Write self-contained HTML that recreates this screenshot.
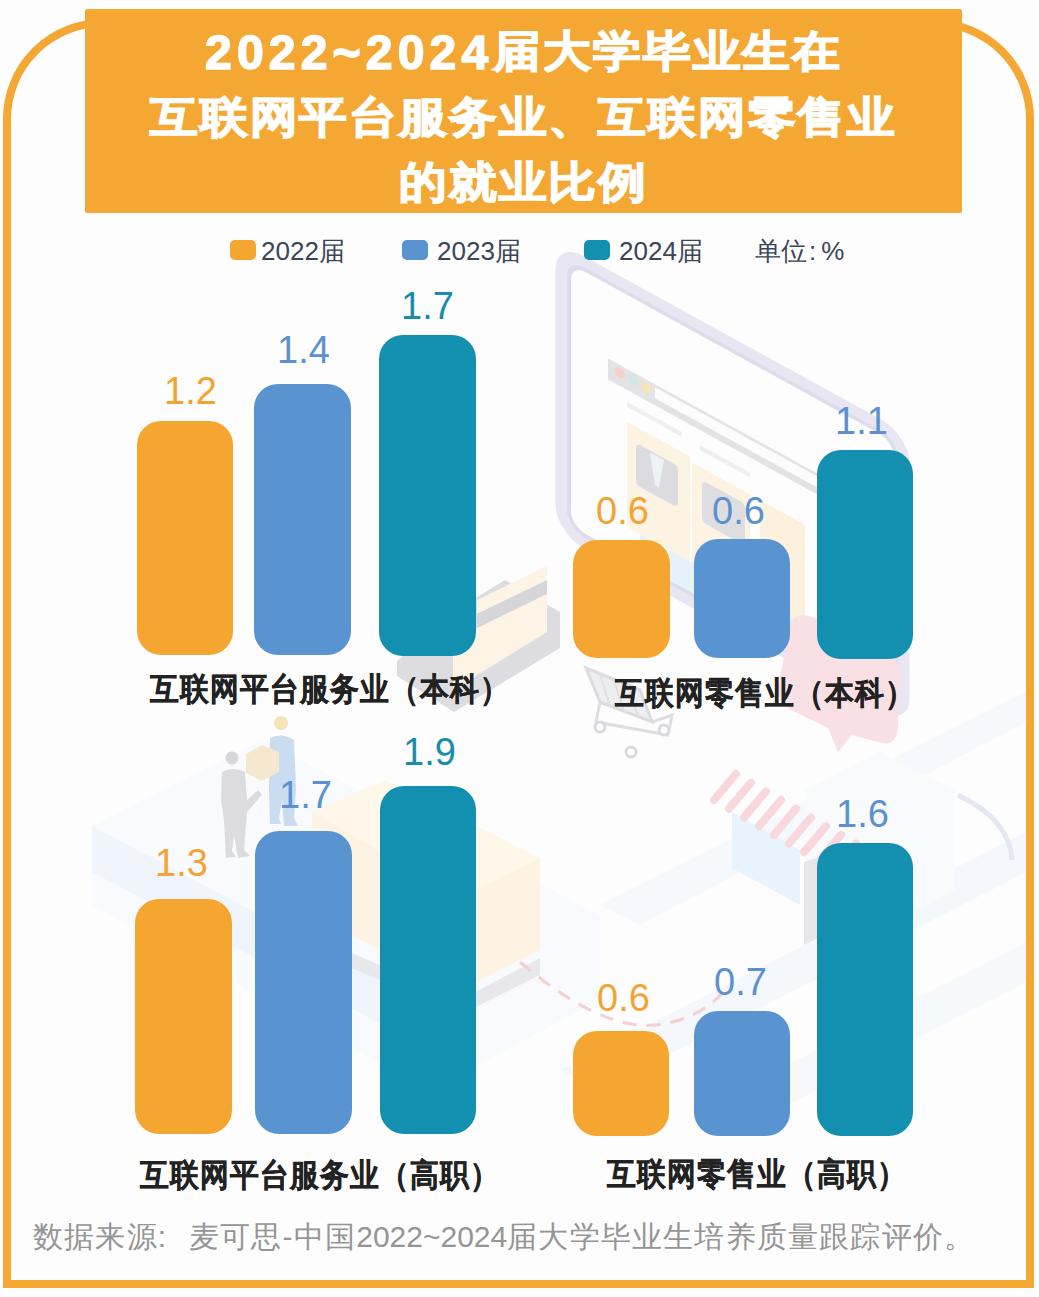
<!DOCTYPE html>
<html><head><meta charset="utf-8">
<style>
html,body{margin:0;padding:0;}
body{width:1039px;height:1297px;position:relative;overflow:hidden;background:#fdfdfd;font-family:"Liberation Sans",sans-serif;}
.abs{position:absolute;}
#bg{position:absolute;left:0;top:0;}
.title{position:absolute;left:85px;top:9px;width:877px;height:204px;background:#f4a733;border-radius:2px;}
.tl{position:absolute;left:0;width:877px;text-align:center;color:#fff;font-weight:900;font-size:48px;letter-spacing:1.8px;white-space:nowrap;line-height:1;-webkit-text-stroke:1.6px #fff;transform:scaleY(0.9);transform-origin:0 0;}
.sw{position:absolute;width:26px;height:20px;border-radius:5px;top:239.5px;}
.lg{position:absolute;top:237.5px;font-size:26px;color:#3a4557;line-height:1;white-space:nowrap;}
.bar{position:absolute;border-radius:24px;}
.o{background:#f4a631;}
.b{background:#5a94d0;}
.t{background:#1390b0;}
.val{position:absolute;font-size:38px;line-height:1;white-space:nowrap;}
.vo{color:#f3a331;}
.vb{color:#5b91cf;}
.vt{color:#1a8cab;}
.cat{position:absolute;font-size:29px;letter-spacing:1px;font-weight:bold;color:#222;-webkit-text-stroke:0.3px #222;transform:scaleY(1.11);transform-origin:0 0;line-height:1;white-space:nowrap;}
.foot{position:absolute;left:33px;top:1222px;font-size:30px;letter-spacing:1.2px;color:#959595;font-weight:300;line-height:1;white-space:nowrap;}
</style></head>
<body>
<svg id="bg" width="1039" height="1297" viewBox="0 0 1039 1297">
  <!-- background illustration (faint) -->
  <g id="illus">
    <!-- left slab -->
    <polygon points="92,826 262,740 600,915 600,1000 430,1090 92,905" fill="#f8fafd"/>
    <polygon points="92,826 92,872 430,1050 430,1005" fill="#f0f5fb"/>
    <!-- lower-right conveyor bands -->
    <polygon points="560,1070 1030,830 1030,870 600,1090" fill="#f4f7fc"/>
    <polygon points="600,905 1030,690 1030,720 640,925" fill="#f5f8fc"/>
    <polygon points="700,1110 1030,940 1030,980 740,1130" fill="#f6f8fc"/>
    <!-- monitor -->
    <g transform="matrix(1,0.55,0,1,0,0)">
      <rect x="555.5" y="-65" width="354" height="292" rx="28" fill="#e7e6f2"/>
      <rect x="567" y="-54" width="331" height="270" rx="18" fill="#dddcea"/>
      <rect x="571" y="-50" width="323" height="262" rx="15" fill="#fdfdfe"/>
      <rect x="608" y="24" width="272" height="21" fill="#e3e3e5"/>
      <circle cx="620" cy="32" r="5" fill="#f5d0c6"/>
      <circle cx="633" cy="32" r="5" fill="#d0e7e9"/>
      <circle cx="646" cy="32" r="5" fill="#f6e5b6"/>
      <rect x="655" y="27" width="225" height="11" fill="#fcfcfc"/>
      <rect x="627" y="57" width="55" height="5" fill="#efefef"/>
      <rect x="700" y="60" width="50" height="5" fill="#efefef"/>
      <rect x="627" y="77" width="63" height="105" fill="#fdf3e3"/>
      <rect x="636" y="93" width="42" height="42" rx="5" fill="#dcdce0"/>
      <polygon points="650,95 664,95 659,125 655,125" fill="#eef2f6"/>
      <rect x="692" y="82" width="58" height="100" fill="#fdf3e3"/>
      <rect x="702" y="94" width="43" height="42" rx="5" fill="#dedee2"/>
      <rect x="760" y="82" width="45" height="100" fill="#fdf1de"/>
      <rect x="640" y="182" width="170" height="30" fill="#e6f2f9"/>
    </g>
    <!-- store bg -->
    <polygon points="805,790 880,752 955,790 955,890 880,930 805,890" fill="#f9fafc"/>
    <!-- speech bubble -->
    <path d="M790 625 Q795 610 815 618 L885 650 Q900 658 900 680 L898 728 Q896 748 878 742 L852 735 L838 752 L828 728 L795 712 Q778 704 778 688 Z" fill="#f9e0e4"/>
    <!-- cart -->
    <polygon points="586,668 640,690 652,722 600,702" fill="#eeeef1" stroke="#dcdce0" stroke-width="3"/>
    <g stroke="#e0e0e4" stroke-width="2"><line x1="600" y1="674" x2="610" y2="707"/><line x1="614" y1="680" x2="624" y2="712"/><line x1="628" y1="686" x2="638" y2="717"/></g>
    <polyline points="600,702 596,722 668,735 672,715 652,722" fill="none" stroke="#dedee2" stroke-width="3"/>
    <g fill="#fff" stroke="#dadade" stroke-width="3">
      <circle cx="600" cy="727" r="5"/><circle cx="664" cy="730" r="5"/><circle cx="631" cy="752" r="5"/>
    </g>
    <!-- card reader -->
    <polygon points="397,661 477,597 505,580 560,612 560,648 454,712 397,676" fill="#dddde1"/>
    <polygon points="477,600 547,566 547,580 477,614" fill="#fdf4e6"/>
    <polygon points="477,614 547,580 547,594 477,628" fill="#d5d5da"/>
    <polygon points="453,640 547,594 547,632 453,690" fill="#fdf4e6"/>
    <!-- big box -->
    <polygon points="312,812 385,780 540,858 540,950 460,990 312,915" fill="#fdf3e2"/>
    <polygon points="312,812 385,780 540,858 460,897" fill="#fef7ea"/>
    <polygon points="345,950 460,1000 540,958 540,975 460,1015 345,965" fill="#e8e8ec"/>
    <!-- people -->
    <circle cx="232" cy="758" r="6.5" fill="#d6d6d8"/>
    <path d="M222 772 Q233 766 245 772 L247 800 L258 790 L262 795 L247 812 L244 850 L250 856 L238 858 L234 835 L232 851 L236 857 L226 858 L224 820 L221 800 Z" fill="#dcdcde"/>
    <circle cx="281" cy="723" r="7" fill="#f6e4b6"/>
    <path d="M270 738 Q282 732 294 740 L296 790 L294 818 L298 826 L284 826 L282 800 L279 818 L281 824 L270 824 L269 790 Z" fill="#cadcef"/>
    <polygon points="246,754 262,745 279,752 279,772 262,781 246,773" fill="#f6e7cf"/>
    <!-- store -->
    
    <polygon points="732,812 800,850 800,905 732,868" fill="#e9f3fb"/>
    <g stroke="#f9d8dd" stroke-width="8" stroke-linecap="round"><line x1="714" y1="800.0" x2="736" y2="774.0"/><line x1="729" y1="808.7" x2="751" y2="782.7"/><line x1="744" y1="817.4" x2="766" y2="791.4"/><line x1="759" y1="826.1" x2="781" y2="800.1"/><line x1="774" y1="834.8" x2="796" y2="808.8"/><line x1="789" y1="843.5" x2="811" y2="817.5"/><line x1="804" y1="852.2" x2="826" y2="826.2"/><line x1="819" y1="860.9" x2="841" y2="834.9"/><line x1="834" y1="869.6" x2="856" y2="843.6"/></g>
    <polygon points="804,862 822,856 822,936 804,945" fill="#e6e6e8"/>
    <path d="M958 795 Q1010 820 1012 860" fill="none" stroke="#e4e6f4" stroke-width="5"/>
    <!-- dashed curve -->
    <path d="M520 962 Q600 1030 655 1025 Q700 1020 725 990" fill="none" stroke="#f5cfd2" stroke-width="3" stroke-dasharray="14 10"/>
  </g>

  <!-- outer border -->
  <path d="M7 1284 V119 A96 96 0 0 1 103 23 H934 A96 96 0 0 1 1030 119 V1284 Z" fill="none" stroke="#f4a733" stroke-width="8"/>
</svg>
<div class="title">
  <div class="tl" style="top:21px"><span style="letter-spacing:5.2px;display:inline-block;transform:translateY(3px) scaleY(1.12);transform-origin:50% 80%">2022~2024</span>届大学毕业生在</div>
  <div class="tl" style="top:87px">互联网平台服务业、互联网零售业</div>
  <div class="tl" style="top:152px">的就业比例</div>
</div>
<div class="sw o" style="left:230px"></div><div class="lg" style="left:261px">2022届</div>
<div class="sw b" style="left:402px"></div><div class="lg" style="left:437px">2023届</div>
<div class="sw t" style="left:584px"></div><div class="lg" style="left:619px">2024届</div>
<div class="lg" style="left:755px">单位<span style="margin:0 5px 0 2px">:</span>%</div>

<!-- chart 1 -->
<div class="bar o" style="left:137px;top:421px;width:96px;height:234px"></div>
<div class="bar b" style="left:254px;top:384px;width:97px;height:271px"></div>
<div class="bar t" style="left:379px;top:335px;width:97px;height:321px"></div>
<div class="val vo" style="left:164px;top:372px">1.2</div>
<div class="val vb" style="left:277px;top:330.5px">1.4</div>
<div class="val vt" style="left:401px;top:287px">1.7</div>
<div class="cat" style="left:149.5px;top:672.5px">互联网平台服务业（本科）</div>

<!-- chart 2 -->
<div class="bar o" style="left:573px;top:540px;width:97px;height:118px"></div>
<div class="bar b" style="left:694px;top:539px;width:96px;height:119px"></div>
<div class="bar t" style="left:817px;top:450px;width:96px;height:209px"></div>
<div class="val vo" style="left:596px;top:492px">0.6</div>
<div class="val vb" style="left:712px;top:492px">0.6</div>
<div class="val vb" style="left:835px;top:402px">1.1</div>
<div class="cat" style="left:615px;top:676.5px">互联网零售业（本科）</div>

<!-- chart 3 -->
<div class="bar o" style="left:135px;top:899px;width:97px;height:235px"></div>
<div class="bar b" style="left:255px;top:831px;width:97px;height:303px"></div>
<div class="bar t" style="left:380px;top:786px;width:96px;height:348px"></div>
<div class="val vo" style="left:155px;top:844px">1.3</div>
<div class="val vb" style="left:279px;top:776px">1.7</div>
<div class="val vt" style="left:403px;top:733px">1.9</div>
<div class="cat" style="left:139.5px;top:1159px">互联网平台服务业（高职）</div>

<!-- chart 4 -->
<div class="bar o" style="left:573px;top:1031px;width:96px;height:105px"></div>
<div class="bar b" style="left:694px;top:1011px;width:96px;height:125px"></div>
<div class="bar t" style="left:817px;top:843px;width:96px;height:293px"></div>
<div class="val vo" style="left:597px;top:979px">0.6</div>
<div class="val vb" style="left:714px;top:963px">0.7</div>
<div class="val vb" style="left:836px;top:795px">1.6</div>
<div class="cat" style="left:607px;top:1157.5px">互联网零售业（高职）</div>

<div class="foot">数据来源<span style="display:inline-block;width:31.2px">:</span>麦可思-中国<span style="letter-spacing:0">2022~2024</span>届大学毕业生培养质量跟踪评价。</div>
</body></html>
